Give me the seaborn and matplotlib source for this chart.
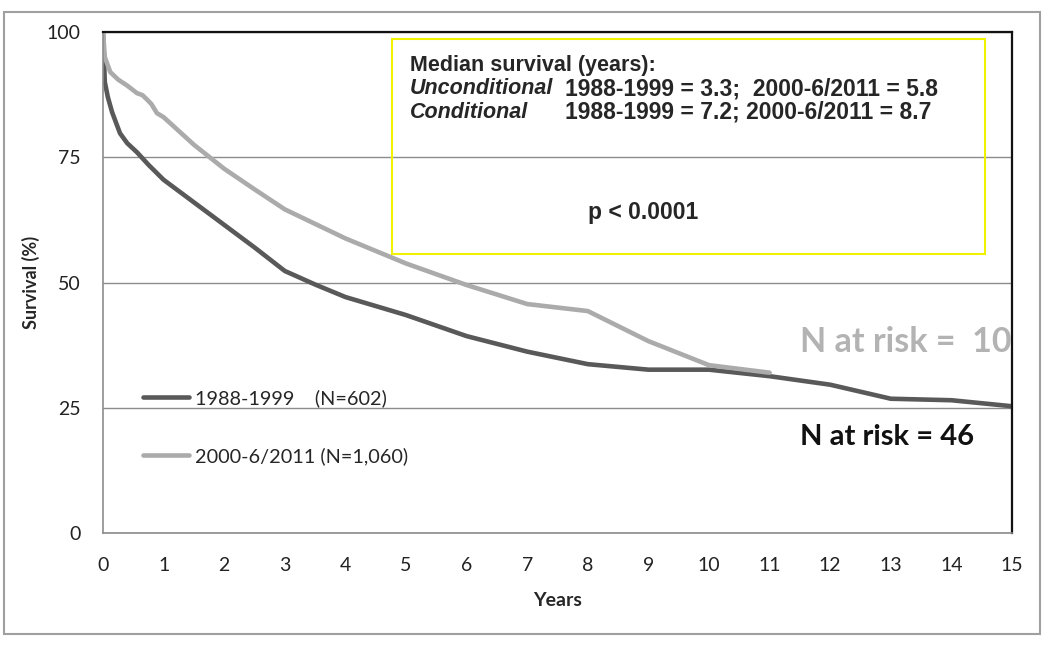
import matplotlib
matplotlib.use("Agg")
import matplotlib.pyplot as plt
import matplotlib.patches as mpatches
import seaborn as sns
import pandas as pd

# ---- data ----
years_early = [0, 0.03, 0.08, 0.15, 0.28, 0.4, 0.56, 0.75, 1.0, 1.5, 2.0, 2.5, 3.0, 3.5,
               4.0, 5.0, 6.0, 7.0, 8.0, 9.0, 10.0, 11.0, 12.0, 13.0, 14.0, 15.0]
surv_early = [100, 90, 87, 84, 79.8, 77.8, 76, 73.5, 70.5, 66, 61.5, 57, 52.3, 49.6,
              47.1, 43.5, 39.3, 36.2, 33.7, 32.6, 32.6, 31.3, 29.6, 26.8, 26.5, 25.3]
years_late = [0, 0.03, 0.12, 0.25, 0.4, 0.56, 0.65, 0.72, 0.8, 0.89, 1.0, 1.5, 2.0, 2.5,
              3.0, 4.0, 5.0, 6.0, 7.0, 8.0, 9.0, 10.0, 11.0]
surv_late = [100, 95, 92, 90.5, 89.3, 87.8, 87.4, 86.6, 85.6, 83.8, 83, 77.5, 72.7, 68.6,
             64.6, 58.8, 53.8, 49.5, 45.7, 44.3, 38.3, 33.5, 32.0]
period_labels = ["1988-1999    (N=602)", "2000-6/2011 (N=1,060)"]
x_ticks = list(range(0, 16))
y_ticks = [0, 25, 50, 75, 100]

df = pd.concat([
    pd.DataFrame({"Years": years_early, "Survival": surv_early, "Period": period_labels[0]}),
    pd.DataFrame({"Years": years_late, "Survival": surv_late, "Period": period_labels[1]}),
], ignore_index=True)

sns.set_theme(style="white")
plt.rcParams["font.family"] = ["Lato", "DejaVu Sans"]

fig = plt.figure(figsize=(10.5, 6.46), dpi=100)
ax = fig.add_axes([103 / 1050, 1 - 533 / 646, 909 / 1050, 501 / 646])

dark = "#595959"
light = "#ababab"
sns.lineplot(data=df, x="Years", y="Survival", hue="Period", palette=[dark, light],
             linewidth=3.3, ax=ax, sort=False, estimator=None, legend=True)

ax.set_xlim(0, 15)
ax.set_ylim(0, 100)
ax.set_xticks(x_ticks)
ax.set_yticks(y_ticks)
ax.tick_params(axis="both", labelsize=14, labelcolor="#222222", length=5, width=1,
               direction="out", color="#8c8c8c")
ax.tick_params(axis="x", pad=12)
ax.tick_params(axis="y", pad=11)
ax.yaxis.grid(True, color="#8c8c8c", linewidth=1)
ax.xaxis.grid(False)
for s in ["left", "bottom"]:
    ax.spines[s].set_color("#8c8c8c")
    ax.spines[s].set_linewidth(1.2)
for s in ["top", "right"]:
    ax.spines[s].set_color("#111111")
    ax.spines[s].set_linewidth(1.6)
    ax.spines[s].set_visible(True)

ax.set_xlabel("Years", fontsize=14, fontweight="bold", labelpad=13)
ax.set_ylabel("Survival (%)", fontsize=13, fontweight="bold", labelpad=5)

handles, labels = ax.get_legend_handles_labels()
ax.legend(handles, labels, loc="upper left", bbox_to_anchor=(0.044, 0.287),
          frameon=False, fontsize=14.3, handlelength=2.3, handletextpad=0.3,
          labelspacing=2.0, borderpad=0, borderaxespad=0)

# annotation box
ax.add_patch(mpatches.Rectangle((289 / 909, (533 - 254) / 501), 593 / 909, 215 / 501,
                                transform=ax.transAxes, fill=False, edgecolor="#f2f200",
                                linewidth=1.5, zorder=5))
tf = ["Liberation Sans"]
fs = 15.5
fs_num = 16.5
ax.text(307 / 909, (533 - 66) / 501, "Median survival (years):", transform=ax.transAxes,
        fontsize=fs, fontweight="bold", family=tf, va="center", ha="left")
ax.text(307 / 909, (533 - 89) / 501, "Unconditional", transform=ax.transAxes,
        fontsize=fs, fontweight="bold", style="italic", family=tf, va="center", ha="left")
ax.text(462 / 909, (533 - 89) / 501, "1988-1999 = 3.3;  2000-6/2011 = 5.8", transform=ax.transAxes,
        fontsize=fs_num, fontweight="bold", family=tf, va="center", ha="left")
ax.text(307 / 909, (533 - 112) / 501, "Conditional", transform=ax.transAxes,
        fontsize=fs, fontweight="bold", style="italic", family=tf, va="center", ha="left")
ax.text(462 / 909, (533 - 112) / 501, "1988-1999 = 7.2; 2000-6/2011 = 8.7", transform=ax.transAxes,
        fontsize=fs_num, fontweight="bold", family=tf, va="center", ha="left")
ax.text(485 / 909, (533 - 212) / 501, "p < 0.0001", transform=ax.transAxes,
        fontsize=fs_num, fontweight="bold", family=tf, va="center", ha="left")

ax.text(697 / 909, (533 - 342) / 501, "N at risk =  10", transform=ax.transAxes,
        fontsize=24.5, fontweight="bold", color="#b3b3b3", va="center", ha="left")
ax.text(697 / 909, (533 - 437) / 501, "N at risk = 46", transform=ax.transAxes,
        fontsize=21, fontweight="bold", color="#111111", va="center", ha="left")

# outer frame
fig.patches.append(mpatches.Rectangle((4 / 1050, 1 - 634 / 646), 1036 / 1050, 622 / 646,
                                      transform=fig.transFigure, fill=False,
                                      edgecolor="#a0a0a0", linewidth=1.5))

fig.savefig("out.png", dpi=100)
